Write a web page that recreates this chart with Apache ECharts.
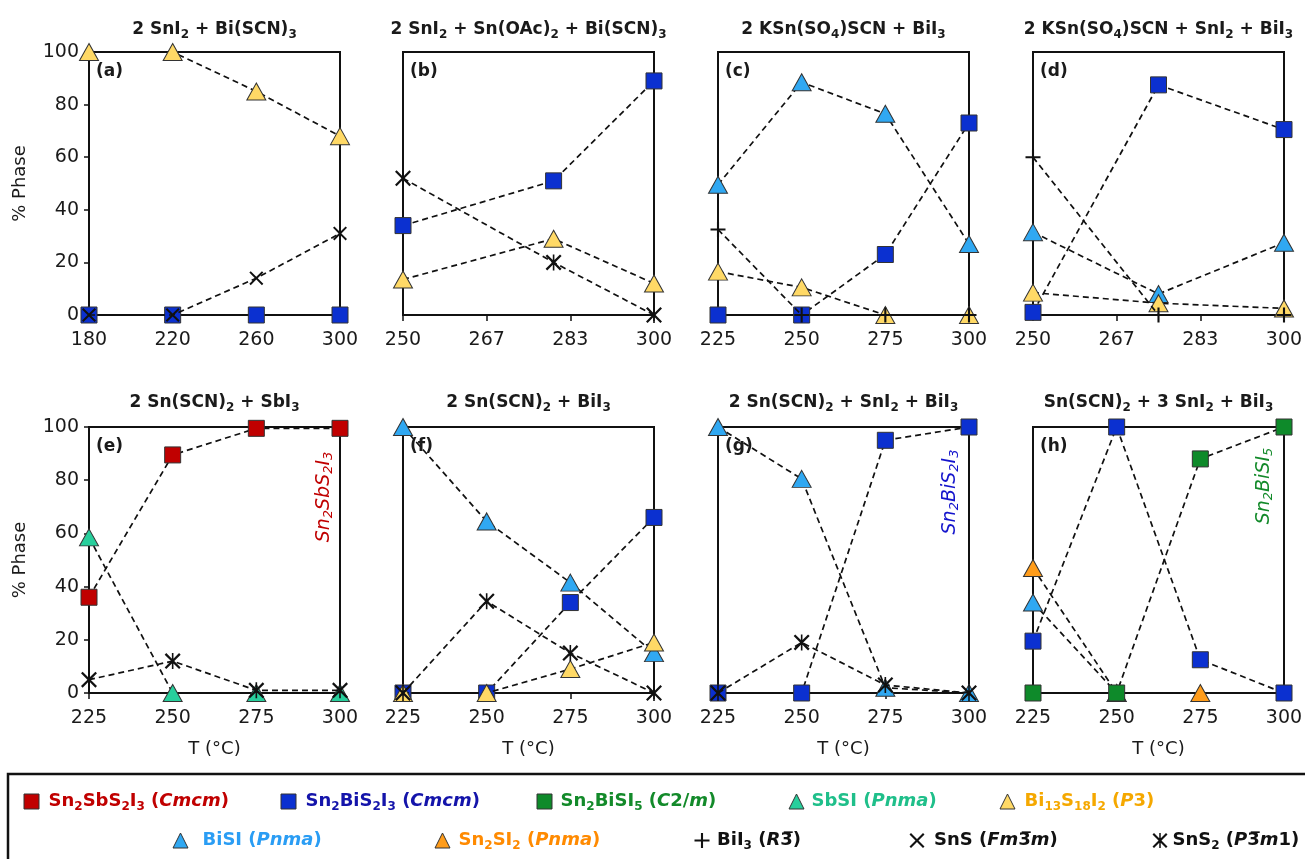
<!DOCTYPE html>
<html>
<head>
<meta charset="utf-8">
<title>% Phase vs temperature</title>
<script src="https://cdn.jsdelivr.net/npm/echarts@6/dist/echarts.min.js"></script>
<style>
  html, body { margin: 0; padding: 0; background: #fff; }
  #chart { width: 1305px; height: 859px; }
</style>
</head>
<body>
<div id="chart"></div>
<script>
const FONT = 'DejaVu Sans';
const INK = '#1a1a1a';

// temperatures (°C) of the samples in each panel
const tempsA = [180, 220, 260, 300];
const tempsB = [250, 280, 300];
const tempsC = [225, 250, 275, 300];
const tempsD = [250, 275, 300];
const tempsEH = [225, 250, 275, 300];

// x tick labels
const ticksA = [180, 220, 260, 300];
const ticksBD = [250, 266.67, 283.33, 300];
const ticksC = [225, 250, 275, 300];

// % phase
const aSn2BiS2I3 = [0, 0, 0, 0];
const aBi13S18I2 = [100, 100, 85, 68];
const aSnS = [0, 0, 14, 31];

const bSn2BiS2I3 = [34, 51, 89];
const bBi13S18I2 = [13.5, 29, 12];
const bSnS2 = [52, 20, 0];

const cSn2BiS2I3 = [0, 0, 23, 73];
const cBiSI = [49.5, 88.5, 76.5, 27];
const cBi13S18I2 = [16.5, 10.5, 0, 0];
const cBiI3 = [32.5, 0, 0, 0];

const dSn2BiS2I3 = [1, 87.5, 70.5];
const dBiSI = [31.5, 8, 27.5];
const dBi13S18I2 = [8.5, 4.5, 2.5];
const dBiI3 = [60, 0, 0];

const eSn2SbS2I3 = [36, 89.5, 99.5, 99.5];
const eSbSI = [58.5, 0, 0, 0];
const eSnS2 = [5, 12, 1, 1];

const fSn2BiS2I3 = [0, 0, 34, 66];
const fBiSI = [100, 64.5, 41.5, 15];
const fBi13S18I2 = [0, 0, 9, 19];
const fSnS2 = [0, 34.5, 15, 0];

const gSn2BiS2I3 = [0, 0, 95, 100];
const gBiSI = [100, 80.5, 2, 0];
const gSnS2 = [0, 19, 3, 0];

const hSn2SI2 = [47, 0, 0, null];
const hBiSI = [34, 0, null, null];
const hSn2BiS2I3 = [19.5, 100, 12.5, 0];
const hSn2BiSI5 = [0, 0, 88, 100];

// filled outlines for the stroke-like markers
const PLUS = 'path://M43,0L57,0L57,43L100,43L100,57L57,57L57,100L43,100L43,57L0,57L0,43L43,43Z';
const CROSS = 'path://M0,10L10,0L50,40L90,0L100,10L60,50L100,90L90,100L50,60L10,100L0,90L40,50Z';
const STAR = CROSS + 'M45,0L55,0L55,100L45,100Z';

const phaseStyle = {
  Sn2SbS2I3: { symbol: 'rect', size: 16, fill: '#c00000', text: '#c00000', label: 'Sn{s|2}SbS{s|2}I{s|3} ({i|Cmcm})' },
  Sn2BiS2I3: { symbol: 'rect', size: 16, fill: '#0b30d0', text: '#1414aa', label: 'Sn{s|2}BiS{s|2}I{s|3} ({i|Cmcm})' },
  Sn2BiSI5: { symbol: 'rect', size: 16, fill: '#0e8a2a', text: '#138a2a', label: 'Sn{s|2}BiSI{s|5} ({i|C}2/{i|m})' },
  SbSI: { symbol: 'triangle', size: [19, 17], fill: '#28cf9c', text: '#1fbf8a', label: 'SbSI ({i|Pnma})' },
  Bi13S18I2: { symbol: 'triangle', size: [19, 17], fill: '#ffd966', text: '#f5a800', label: 'Bi{s|13}S{s|18}I{s|2} ({i|P}3)' },
  BiSI: { symbol: 'triangle', size: [19, 17], fill: '#30a8f2', text: '#2a9df4', label: 'BiSI ({i|Pnma})' },
  Sn2SI2: { symbol: 'triangle', size: [19, 17], fill: '#ff9c1a', text: '#ff8a00', label: 'Sn{s|2}SI{s|2} ({i|Pnma})' },
  BiI3: { symbol: PLUS, size: 15, fill: '#111', text: '#111', stroke: true, label: 'BiI{s|3} ({i|R}3\u0305)' },
  SnS: { symbol: CROSS, size: 14, fill: '#111', text: '#111', stroke: true, label: 'SnS ({i|Fm}3\u0305{i|m})' },
  SnS2: { symbol: STAR, size: 16, fill: '#111', text: '#111', stroke: true, label: 'SnS{s|2} ({i|P}3\u0305{i|m}1)' }
};

const panels = [
  { tag: '(a)', title: '2 SnI{s|2} + Bi(SCN){s|3}', x: tempsA, ticks: ticksA,
    series: [['Sn2BiS2I3', aSn2BiS2I3], ['Bi13S18I2', aBi13S18I2], ['SnS', aSnS]] },
  { tag: '(b)', title: '2 SnI{s|2} + Sn(OAc){s|2} + Bi(SCN){s|3}', x: tempsB, ticks: ticksBD,
    series: [['Sn2BiS2I3', bSn2BiS2I3], ['Bi13S18I2', bBi13S18I2], ['SnS2', bSnS2]] },
  { tag: '(c)', title: '2 KSn(SO{s|4})SCN + BiI{s|3}', x: tempsC, ticks: ticksC,
    series: [['Sn2BiS2I3', cSn2BiS2I3], ['BiSI', cBiSI], ['Bi13S18I2', cBi13S18I2], ['BiI3', cBiI3]] },
  { tag: '(d)', title: '2 KSn(SO{s|4})SCN + SnI{s|2} + BiI{s|3}', x: tempsD, ticks: ticksBD,
    series: [['Sn2BiS2I3', dSn2BiS2I3], ['BiSI', dBiSI], ['Bi13S18I2', dBi13S18I2], ['BiI3', dBiI3]] },
  { tag: '(e)', title: '2 Sn(SCN){s|2} + SbI{s|3}', x: tempsEH, ticks: ticksC,
    series: [['Sn2SbS2I3', eSn2SbS2I3], ['SbSI', eSbSI], ['SnS2', eSnS2]] },
  { tag: '(f)', title: '2 Sn(SCN){s|2} + BiI{s|3}', x: tempsEH, ticks: ticksC,
    series: [['Sn2BiS2I3', fSn2BiS2I3], ['BiSI', fBiSI], ['Bi13S18I2', fBi13S18I2], ['SnS2', fSnS2]] },
  { tag: '(g)', title: '2 Sn(SCN){s|2} + SnI{s|2} + BiI{s|3}', x: tempsEH, ticks: ticksC,
    series: [['Sn2BiS2I3', gSn2BiS2I3], ['BiSI', gBiSI], ['SnS2', gSnS2]] },
  { tag: '(h)', title: 'Sn(SCN){s|2} + 3 SnI{s|2} + BiI{s|3}', x: tempsEH, ticks: ticksC,
    series: [['Sn2SI2', hSn2SI2], ['BiSI', hBiSI], ['Sn2BiS2I3', hSn2BiS2I3], ['Sn2BiSI5', hSn2BiSI5]] }
];

// rotated product labels inside e, g, h
const sideLabels = [
  { text: 'Sn{s|2}SbS{s|2}I{s|3}', color: '#c00000', x: 324, y: 497 },
  { text: 'Sn{s|2}BiS{s|2}I{s|3}', color: '#1414cc', x: 950, y: 492 },
  { text: 'Sn{s|2}BiSI{s|5}', color: '#138a2a', x: 1264, y: 486 }
];

// legend layout
const legendRows = [
  ['Sn2SbS2I3', 'Sn2BiS2I3', 'Sn2BiSI5', 'SbSI', 'Bi13S18I2'],
  ['BiSI', 'Sn2SI2', 'BiI3', 'SnS', 'SnS2']
];
const legendIconX = [[31, 288, 544, 796, 1007], [180, 442, 702, 917, 1160]];
const legendTextX = [[48, 305, 560, 811, 1024], [202, 458, 717, 934, 1170]];
const legendRowY = [798, 837];

const gridLeft = [89, 403, 718, 1033];
const gridTop = [52, 427];
const gridH = [263, 266];
const gridW = 251;

const richFor = (color, size, weight) => ({
  s: { color, fontFamily: FONT, fontWeight: weight, fontStyle: 'normal',
    fontSize: Math.round(size * 0.68), lineHeight: Math.round(size * 0.68), verticalAlign: 'bottom' },
  i: { color, fontFamily: FONT, fontWeight: weight, fontStyle: 'italic',
    fontSize: size, lineHeight: size + 4 }
});

const grids = [], xAxes = [], yAxes = [], titles = [], series = [], graphics = [];

panels.forEach((p, i) => {
  const row = i < 4 ? 0 : 1;
  const col = i % 4;
  const left = gridLeft[col], top = gridTop[row];

  grids.push({
    left, top, width: gridW, height: gridH[row],
    show: true, borderColor: '#111', borderWidth: 2,
    backgroundColor: 'transparent', containLabel: false, outerBoundsMode: 'none'
  });

  xAxes.push({
    gridIndex: i, type: 'value',
    min: p.ticks[0], max: p.ticks[p.ticks.length - 1],
    axisLine: { show: true, onZero: false, lineStyle: { color: '#111', width: 2 } },
    axisTick: { show: true, inside: false, length: 6, customValues: p.ticks, lineStyle: { color: '#111', width: 1.5 } },
    axisLabel: { customValues: p.ticks, formatter: (v) => String(Math.round(v)),
      margin: 16, fontFamily: FONT, fontSize: 19, color: INK },
    splitLine: { show: false },
    name: row === 1 ? 'T (°C)' : '',
    nameLocation: 'middle', nameGap: 47,
    nameTextStyle: { fontFamily: FONT, fontSize: 18, color: INK }
  });

  const first = col === 0;
  yAxes.push({
    gridIndex: i, type: 'value', min: 0, max: 100, interval: 20,
    axisLine: { show: true, lineStyle: { color: '#111', width: 2 } },
    axisTick: { show: first, length: 5, lineStyle: { color: '#111', width: 1.5 } },
    axisLabel: { show: first, margin: 10, fontFamily: FONT, fontSize: 19, color: INK },
    splitLine: { show: false },
    name: first ? '% Phase' : '',
    nameLocation: 'middle', nameGap: 60,
    nameTextStyle: { fontFamily: FONT, fontSize: 18, color: INK }
  });

  titles.push({
    text: p.title,
    left: left + gridW / 2, textAlign: 'center',
    top: (row === 0 ? 30 : 403) - 10.5, padding: 0,
    textStyle: { fontFamily: FONT, fontWeight: 'bold', fontSize: 17, color: INK, lineHeight: 21,
      rich: richFor(INK, 17, 'bold') }
  });

  graphics.push({
    type: 'text', x: left + 7, y: top + 20, silent: true, z: 50,
    style: { text: p.tag, fill: INK, fontFamily: FONT, fontWeight: 'bold', fontSize: 17,
      fontStyle: 'normal', verticalAlign: 'middle' }
  });

  p.series.forEach(([key, vals], k) => {
    const st = phaseStyle[key];
    series.push({
      type: 'line', name: key, xAxisIndex: i, yAxisIndex: i,
      data: p.x.map((t, j) => [t, vals[j]]).filter((d) => d[1] != null),
      symbol: st.symbol, symbolSize: st.size, symbolKeepAspect: true,
      itemStyle: { color: st.fill, borderColor: st.stroke ? st.fill : '#333', borderWidth: st.stroke ? 0 : 1 },
      lineStyle: { color: '#111', width: 1.7, type: [6, 4] },
      z: 2 + k, clip: false, silent: true, animation: false,
      emphasis: { disabled: true }
    });
  });
});

sideLabels.forEach((l) => {
  graphics.push({
    type: 'text', x: l.x, y: l.y, rotation: Math.PI / 2, silent: true, z: 50,
    style: {
      text: l.text, fill: l.color, fontFamily: FONT, fontSize: 19, fontStyle: 'italic', fontWeight: 'normal',
      lineHeight: 23, align: 'center', verticalAlign: 'middle',
      rich: { s: { fill: l.color, fontFamily: FONT, fontSize: 13, fontStyle: 'italic', fontWeight: 'normal',
        lineHeight: 13, verticalAlign: 'bottom' } }
    }
  });
});

// legend frame (runs off the right and bottom edges)
graphics.push({
  type: 'rect', silent: true, z: 0,
  shape: { x: 8, y: 774, width: 1320, height: 120 },
  style: { fill: 'none', stroke: '#111', lineWidth: 2.5 }
});

const legends = [];
legendRows.forEach((names, r) => {
  names.forEach((key, c) => {
    const st = phaseStyle[key];
    const iconX = legendIconX[r][c];
    const pad = Math.max(0, legendTextX[r][c] - iconX - 12.5);
    legends.push({
      data: [{ name: key, icon: st.symbol }],
      left: iconX - 7.5, top: legendRowY[r] - 7.5, padding: 0,
      itemWidth: 15, itemHeight: 15, selectedMode: false,
      formatter: () => st.label,
      itemStyle: { color: st.fill, borderColor: st.stroke ? st.fill : '#333', borderWidth: st.stroke ? 0 : 1 },
      textStyle: { fontFamily: FONT, fontWeight: 'bold', fontSize: 18, color: st.text, lineHeight: 22,
        padding: [0, 0, 0, pad], rich: richFor(st.text, 18, 'bold') }
    });
  });
});

const chart = echarts.init(document.getElementById('chart'));
chart.setOption({
  backgroundColor: '#fff',
  animation: false,
  textStyle: { fontFamily: FONT },
  title: titles,
  legend: legends,
  grid: grids,
  xAxis: xAxes,
  yAxis: yAxes,
  series,
  graphic: graphics
});
</script>
</body>
</html>
